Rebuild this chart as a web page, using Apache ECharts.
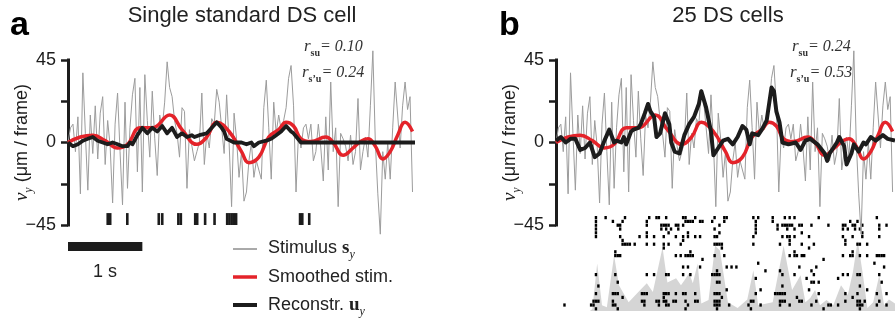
<!DOCTYPE html>
<html>
<head>
<meta charset="utf-8">
<script src="https://cdn.jsdelivr.net/npm/echarts@6/dist/echarts.min.js"></script>
<style>
  html, body { margin: 0; padding: 0; background: #fff; }
  #chart { width: 895px; height: 321px; }
</style>
</head>
<body>
<div id="chart"></div>
<script>
// Time axis is in stimulus frames (30 frames per second).
const frameCount = 140;
const framesPerSecond = 30;

// Stimulus velocity s_y, one value per frame (µm / frame).
const stimulus = [
  0, 8, 10, -5, 14, -28, 38, 5, -26, 15,
  -6, 20, -9, 16, 25, -12, 12, -2, -33, 10,
  27, -5, -34, 22, -25, 8, 26, 35, -16, 30,
  -27, 37, 12, -8, 28, 2, -18, 15, 8, 22,
  44, 30, 25, 12, 5, -8, 19, 17, -25, 7,
  -2, -10, -5, 0, 27, -12, 5, -3, 13, 10,
  29, 22, 8, -6, 26, 0, -35, 16, 2, -19,
  -5, -32, -27, -10, 0, -19, -10, -15, -20, 19,
  34, 8, -20, 22, 5, 15, 7, 12, 19, 35,
  42, 20, -27, 5, -3, 8, 10, 2, 10, -10,
  -5, 10, -3, -21, 14, -15, 33, -5, 8, -35,
  5, 2, -2, -10, 4, -12, -5, 24, -15, -5,
  3, -8, 20, 50, 0, -28, -50, -5, -20, 0,
  -20, 8, 33, 15, -3, 20, 33, 18, 25, -27
];

// Smoothed stimulus: [frame, value] knots.
const smoothedStim = [
  [0, 0], [5, 3], [10, 4], [15, 1], [20, -3], [24, -1], [29, 8], [34, 8],
  [41, 15], [46, 7], [52, -1], [56, 3], [60, 11], [65, 6], [70, -5], [73, -11],
  [77, -8], [81, 3], [85, 7], [88, 11], [91, 9], [94, 2], [98, 0.5], [104, 3],
  [107, 0], [111, -7], [115, -3], [118, 0.5], [121, 2], [124, -2], [127, -9],
  [130, -5], [133, 4], [136, 11], [139, 6]
];

// Reconstruction u_y from a single standard DS cell.
const reconstrSingle = [
  [0, 0], [2, -2], [4, -1], [6, 1], [8, 2], [10, 3], [12, 1], [14, 0], [16, -1],
  [18, 0], [20, -1], [22, -2], [24, -2], [25, 0], [26, -1], [28, 4], [30, 8],
  [32, 5], [34, 8], [36, 6], [38, 9], [40, 5], [42, 8], [44, 3], [46, 5], [48, 3],
  [50, 4], [51, 3], [53, 4], [56, 5], [58, 8], [60, 11], [62, 8], [63, 6], [64, 2],
  [67, 0], [70, 0], [72, -1], [74, 0], [75, -2], [77, 0], [80, 1], [82, 2], [84, 4],
  [86, 6], [88, 9], [90, 6], [91, 5], [94, 0], [140, 0]
];

// Reconstruction u_y from the population of 25 DS cells.
const reconstrPopulation = [
  [0, 1], [2, 3], [4, 0], [6, 2], [8, 2], [10, -4], [12, -3], [14, 0], [16, -8],
  [18, -6], [20, 1], [21, 4], [22, 7], [24, 0], [25, 1], [27, 0], [28, 3], [29, -1],
  [31, 6], [32, 7], [34, 8], [35, 10], [36.7, 16], [38, 21], [39, 17], [40.5, 14],
  [41.5, 3], [43, 5], [45, 16], [46.8, 10], [47.6, 0], [49, -5], [51, -6], [53, 4],
  [55, 10], [57, 14], [59, 21], [60, 28], [62, 19], [64, 6], [65, -7], [67, -3],
  [69, 1], [71, 2], [73, -1], [75, 3], [77, 9], [78.6, 7], [80, -1], [81, 5],
  [83.5, 4], [85, 7], [87, 12], [89, 30], [90, 28], [91, 17], [92.3, 11], [93.5, 0],
  [96, -1], [99, 0], [101, -4], [103, 1], [105, 2], [108, -1], [111, -6], [112, -10],
  [113, -6], [116, 0], [117, 3], [119, -2], [120, -12], [122, -6], [123, -1],
  [125, -5], [127, 0], [128, -1], [130, 3], [132, 1], [135, 4], [137, 2], [140, 1]
];

// Spike times of the single cell (frames).
const spikesSingle = [
  15.5, 16.5, 23.4, 36.1, 37.5, 44.0, 45.0, 50.8, 51.6, 54.8, 58.6,
  63.7, 64.6, 65.5, 66.4, 67.3, 93.1, 94.0, 96.8
];

// Binned spike raster of the 25 cells: frames with a spike, one list per cell.
const rasterRows = [
  [16, 20, 28, 38, 41, 42, 45, 52, 53, 57, 65, 69, 70, 81, 83, 89, 94, 96, 98, 108, 132],
  [16, 23, 27, 37, 53, 54, 55, 56, 59, 60, 64, 69, 82, 89, 121, 124],
  [16, 25, 26, 37, 43, 44, 45, 46, 49, 50, 52, 67, 82, 91, 93, 94, 95, 96, 97, 100, 101, 105, 112, 118, 119, 122, 123, 126, 133, 136],
  [16, 26, 43, 45, 47, 50, 65, 82, 91, 95, 98, 118, 120, 123, 125, 133],
  [16, 37, 46, 54, 67, 82, 101, 126],
  [16, 26, 34, 37, 40, 44, 49, 52, 54, 57, 59, 65, 66, 81, 93, 95, 96, 98, 104, 118, 122, 126, 133],
  [27, 52, 96, 119],
  [27, 28, 29, 30, 32, 37, 40, 44, 46, 51, 65, 66, 67, 68, 81, 92, 96, 101, 106, 119, 124, 125, 128],
  [44, 68, 104],
  [24, 55, 98, 122],
  [24, 25, 26, 49, 51, 53, 54, 55, 56, 65, 69, 96, 98, 99, 101, 102, 118, 121, 122, 125, 128, 132, 133, 134, 135],
  [60, 110],
  [83, 131],
  [52, 54, 59, 70, 72, 74, 100, 107, 135],
  [66, 86, 92, 105],
  [16, 24, 37, 40, 45, 46, 52, 55, 64, 65, 66, 67, 93, 98, 106, 118, 120, 124, 125, 133],
  [82, 103, 116],
  [25, 66, 67, 105, 106, 108, 134],
  [17, 93, 125],
  [70, 84, 104, 128],
  [16, 23, 24, 25, 35, 36, 37, 44, 45, 46, 49, 52, 53, 57, 65, 66, 67, 82, 90, 91, 92, 93, 94, 108, 119, 124, 132, 136],
  [27, 44, 68, 99, 122],
  [15, 16, 17, 23, 35, 36, 41, 42, 44, 45, 48, 49, 53, 57, 58, 65, 66, 67, 80, 81, 92, 93, 94, 100, 101, 107, 119, 124, 125, 127, 133],
  [3, 14, 15, 23, 24, 36, 42, 45, 46, 54, 65, 66, 67, 71, 79, 84, 92, 96, 105, 112, 113, 116, 124, 125, 126, 132, 136],
  [16, 25, 53, 66, 80, 110, 125]
];

// Population spike count over time: [frame, count].
const populationRate = [
  [0, 0], [14, 0], [15, 0.5], [17, 12.5], [19, 1.5], [21, 1], [24, 14.6], [26, 6.8],
  [30, 2.3], [34, 5], [37.5, 7.3], [40, 5], [44, 16.7], [46, 7.5], [49.6, 8.6],
  [51.6, 6.8], [53, 8], [55, 10], [56.5, 7.3], [58.5, 12.5], [60, 2], [63, 2.9],
  [65.7, 17.2], [67.7, 15.9], [71, 2.3], [75, 0.8], [79, 3], [81.5, 10.7], [83.5, 1.5],
  [89.5, 2.3], [94, 17.2], [97.5, 5.5], [101, 9.4], [103, 2.3], [105, 3.4], [107, 5.5],
  [109, 1.5], [111.7, 2.9], [114.5, 1.5], [117.7, 6.8], [120.5, 4.2], [122.6, 10.2],
  [124.6, 18.5], [126.6, 10.2], [128.6, 0.8], [131, 2.3], [133.5, 9.4], [135.5, 1.5],
  [137.5, 3], [140, 2]
];

// Correlation annotations.
const corrSingle = { su: '0.10', spu: '0.24' };
const corrPopulation = { su: '0.24', spu: '0.53' };

// Y-axis ticks (µm / frame); only the labelled ones carry text.
const yTickInterval = 22.5;
const yLabelled = [45, 0, -45];

const SANS = '"Liberation Sans", Arial, sans-serif';
const SERIF = '"Liberation Serif", "Times New Roman", serif';
const INK = '#1c1c1c';
const GREY = '#9c9c9c';
const RED = '#e4232a';

const chart = echarts.init(document.getElementById('chart'), null, { renderer: 'canvas' });

function toXY(arr) { return arr.map((v, i) => [i, v]); }

function yAxisFor(gridIndex) {
  return {
    type: 'value', gridIndex: gridIndex, min: -45, max: 45, interval: yTickInterval,
    splitLine: { show: false },
    axisLine: { show: true, lineStyle: { color: INK, width: 3, cap: 'square' } },
    axisTick: { show: true, length: 7, lineStyle: { color: INK, width: 2.5 } },
    axisLabel: {
      margin: 12, color: INK, fontFamily: SANS, fontSize: 18,
      formatter: v => yLabelled.indexOf(v) >= 0 ? (v < 0 ? '\u2212' + Math.abs(v) : String(v)) : ''
    },
    name: '{v|v}{s|y} (\u03bcm / frame)',
    nameLocation: 'middle', nameRotate: 90, nameGap: 33, nameMoveOverlap: false,
    nameTextStyle: {
      color: INK, fontFamily: SANS, fontSize: 18,
      rich: {
        v: { fontFamily: SERIF, fontStyle: 'italic', fontSize: 19, lineHeight: 26, color: INK },
        s: { fontFamily: SERIF, fontStyle: 'italic', fontSize: 12, lineHeight: 26, verticalAlign: 'bottom', color: INK }
      }
    }
  };
}

function xAxisFor(gridIndex) {
  return { type: 'value', gridIndex: gridIndex, min: 0, max: frameCount, show: false };
}

function lineSeries(name, data, axisIndex, color, width, z, smooth) {
  return {
    name: name, type: 'line', data: data, xAxisIndex: axisIndex, yAxisIndex: axisIndex,
    showSymbol: false, symbol: 'none', smooth: smooth || false, clip: false,
    lineStyle: { color: color, width: width, join: 'round' }, z: z, silent: true
  };
}

const rasterData = [];
rasterRows.forEach((row, r) => row.forEach(f => rasterData.push([f, r])));

const option = {
  animation: false,
  backgroundColor: '#ffffff',
  grid: [
    { left: 68, top: 60, width: 347, height: 165 },
    { left: 556, top: 60, width: 347, height: 165 },
    { left: 556, top: 216, width: 347, height: 95 }
  ],
  xAxis: [xAxisFor(0), xAxisFor(1), xAxisFor(2)],
  yAxis: [
    yAxisFor(0),
    yAxisFor(1),
    { type: 'value', gridIndex: 2, min: 0, max: rasterRows.length, inverse: true, show: false },
    { type: 'value', gridIndex: 2, min: 0, max: rasterRows.length, show: false }
  ],
  series: [
    // Panel a
    lineSeries('Stimulus', toXY(stimulus), 0, GREY, 1, 1),
    lineSeries('Smoothed', smoothedStim, 0, RED, 3.5, 2, 0.45),
    lineSeries('Reconstr', reconstrSingle, 0, INK, 3.8, 3),
    {
      type: 'custom', xAxisIndex: 0, yAxisIndex: 0, silent: true, z: 4, clip: false,
      data: spikesSingle.map(t => [t]),
      renderItem: (params, api) => {
        const t = api.value(0);
        const p0 = api.coord([t, -38.5]);
        const p1 = api.coord([t + 1.05, -45]);
        return { type: 'rect', shape: { x: p0[0], y: p0[1], width: p1[0] - p0[0], height: p1[1] - p0[1] }, style: { fill: INK } };
      }
    },
    {
      // 1 s scale bar
      type: 'custom', xAxisIndex: 0, yAxisIndex: 0, silent: true, z: 4, clip: false,
      data: [[0, framesPerSecond]],
      renderItem: (params, api) => {
        const p0 = api.coord([api.value(0), -45]);
        const p1 = api.coord([api.value(1), -45]);
        return { type: 'rect', shape: { x: p0[0], y: p0[1] + 17, width: p1[0] - p0[0], height: 9 }, style: { fill: INK } };
      }
    },
    // Panel b
    lineSeries('Stimulus', toXY(stimulus), 1, GREY, 1, 6),
    lineSeries('Smoothed', smoothedStim, 1, RED, 3.5, 7, 0.45),
    lineSeries('Reconstr', reconstrPopulation, 1, INK, 4, 8),
    {
      type: 'line', xAxisIndex: 2, yAxisIndex: 3, data: populationRate, silent: true,
      showSymbol: false, symbol: 'none', z: 0,
      lineStyle: { width: 0, color: '#d5d5d5' },
      areaStyle: { color: '#d5d5d5', opacity: 1 }
    },
    {
      type: 'custom', xAxisIndex: 2, yAxisIndex: 2, silent: true, z: 5,
      data: rasterData,
      renderItem: (params, api) => {
        const p0 = api.coord([api.value(0), api.value(1)]);
        const p1 = api.coord([api.value(0) + 1, api.value(1) + 1]);
        return { type: 'rect', shape: { x: p0[0], y: p0[1], width: p1[0] - p0[0], height: (p1[1] - p0[1]) * 0.85 }, style: { fill: '#000' } };
      }
    }
  ],
  graphic: [
    { type: 'text', x: 10, y: 26, style: { text: 'a', font: 'bold 34px ' + SANS, fill: '#000', verticalAlign: 'middle' } },
    { type: 'text', x: 499, y: 26, style: { text: 'b', font: 'bold 34px ' + SANS, fill: '#000', verticalAlign: 'middle' } },
    { type: 'text', x: 242, y: 16, style: { text: 'Single standard DS cell', font: '22px ' + SANS, fill: '#222', align: 'center', verticalAlign: 'middle' } },
    { type: 'text', x: 728, y: 16, style: { text: '25 DS cells', font: '22px ' + SANS, fill: '#222', align: 'center', verticalAlign: 'middle' } },
    corrText(304, 47, 'su', corrSingle.su),
    corrText(302, 73, 's\u2019u', corrSingle.spu),
    corrText(792, 47, 'su', corrPopulation.su),
    corrText(790, 73, 's\u2019u', corrPopulation.spu),
    // legend
    { type: 'line', shape: { x1: 233, y1: 249, x2: 257, y2: 249 }, style: { stroke: '#555', lineWidth: 1 } },
    { type: 'line', shape: { x1: 233, y1: 277, x2: 257, y2: 277 }, style: { stroke: RED, lineWidth: 3.5 } },
    { type: 'line', shape: { x1: 233, y1: 305, x2: 257, y2: 305 }, style: { stroke: INK, lineWidth: 4 } },
    legendText(268, 248, 'Stimulus ', 's'),
    { type: 'text', x: 268, y: 277, style: { text: 'Smoothed stim.', font: '18px ' + SANS, fill: '#222', verticalAlign: 'middle' } },
    legendText(268, 305, 'Reconstr. ', 'u'),
    { type: 'text', x: 105, y: 272, style: { text: '1 s', font: '18px ' + SANS, fill: '#222', align: 'center', verticalAlign: 'middle' } }
  ]
};

function corrText(x, y, sub, val) {
  return {
    type: 'text', x: x, y: y,
    style: {
      text: '{r|r}{s|' + sub + '}{e|= ' + val + '}',
      verticalAlign: 'middle',
      rich: {
        r: { font: 'italic 17px ' + SERIF, fill: '#333', lineHeight: 22 },
        s: { font: 'bold 10px ' + SERIF, fill: '#333', lineHeight: 22, verticalAlign: 'bottom' },
        e: { font: 'italic 16px ' + SERIF, fill: '#333', lineHeight: 22 }
      }
    }
  };
}

function legendText(x, y, label, sym) {
  return {
    type: 'text', x: x, y: y,
    style: {
      text: '{t|' + label + '}{b|' + sym + '}{s|y}',
      verticalAlign: 'middle',
      rich: {
        t: { font: '18px ' + SANS, fill: '#222', lineHeight: 26 },
        b: { font: 'bold 19px ' + SERIF, fill: '#222', lineHeight: 26 },
        s: { font: 'italic 12px ' + SERIF, fill: '#222', lineHeight: 26, verticalAlign: 'bottom' }
      }
    }
  };
}

chart.setOption(option);
</script>
</body>
</html>
